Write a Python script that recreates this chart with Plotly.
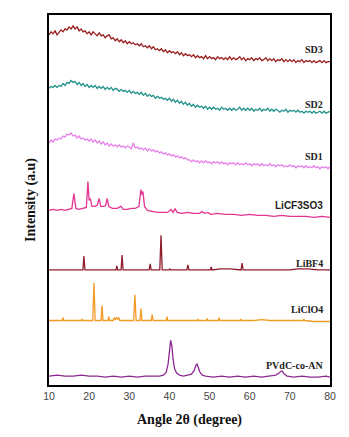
import plotly.graph_objects as go

# ---------------- data (intensity in arbitrary units, stacked offsets included) ----------------
SD_START, SD_STEP = 10.0, 0.5

SD3 = [353,356,354,357,353,356,358,356,359,358,361,359,362,359,361,357,359,356,357,354,
       356,353,356,354,352,355,352,353,350,352,353,349,350,347,349,346,348,345,347,344,
       346,344,345,343,344,342,344,341,342,340,342,339,341,338,339,337,339,336,338,335,
       337,335,336,334,336,333,335,332,334,332,333,331,333,330,332,330,331,329,332,329,
       331,329,330,328,331,329,330,328,330,328,331,328,330,328,329,331,328,330,327,329,
       328,330,327,329,328,330,327,328,330,327,329,327,329,326,328,327,329,326,328,326,
       328,326,328,325,327,326,328,325,327,326,327,325,327,325,326,327,325,327,325,326,326]

SD2 = [299,301,300,302,300,302,301,304,302,305,304,307,305,306,303,305,302,304,301,303,
       300,302,300,302,299,301,299,301,298,300,298,300,297,299,298,296,298,296,297,295,
       297,294,296,294,295,293,295,292,294,291,293,291,292,289,291,289,290,288,289,287,
       289,286,288,285,287,284,286,283,285,282,284,281,283,280,282,280,281,279,281,278,
       280,278,280,278,279,277,280,278,279,277,279,277,279,277,278,280,277,279,277,279,
       277,279,276,278,277,279,276,278,277,279,276,278,276,278,277,275,277,276,278,275,
       277,276,277,275,277,275,276,274,276,275,276,274,276,274,275,276,274,276,274,275,276]

SD1 = [244,247,245,248,247,249,248,251,250,253,252,254,251,252,249,251,248,249,247,248,
       246,248,245,247,244,246,243,245,242,244,241,243,241,242,240,242,240,241,239,241,
       240,238,244,239,240,238,239,237,239,236,238,236,237,235,236,234,235,233,234,232,
       233,231,232,230,231,229,230,228,229,227,227,225,227,225,226,224,226,224,226,224,
       225,223,225,224,225,223,225,223,224,222,224,223,224,222,224,222,223,222,224,222,
       223,221,223,222,223,221,223,221,222,221,223,221,222,220,222,221,222,220,221,220,
       222,220,221,219,221,220,221,219,221,219,220,219,221,219,220,218,220,219,220,218,220]

LICF3SO3_X = [10,11,12,13,14,15,15.7,16.2,16.7,17.5,18.5,19.3,19.7,20.0,20.3,20.7,21.3,22.0,22.5,22.9,
              23.6,24.1,24.5,24.9,25.8,27.0,27.9,28.5,29.5,30.5,31.5,32.4,32.9,33.1,33.4,33.8,34.5,35.5,37,38.5,
              39.5,40.4,40.9,41.4,41.9,43,44.5,46,47.5,48.1,48.7,49.6,50.3,52,54,56,58,60,62,64,
              66,68,70,72,74,76,78,80]
LICF3SO3_Y = [176,177,176,177,176,177,178,193,178,177,178,179,205,186,188,180,180,181,188,180,
              180,181,188,180,178,178,180,177,177,178,178,180,197,192,195,180,176,175,174,174,
              174,177,174,178,174,173,174,173,173,175,173,174,172,173,172,172,171,172,171,171,
              170,171,170,170,170,169,170,169]

LIBF4_X = [10,13,16,18.45,18.7,18.95,22,25,26.7,26.9,27.1,27.95,28.2,28.45,31,34.95,35.2,35.45,37.6,37.9,
           38.2,39.9,40.1,40.3,42,44.35,44.6,44.85,47,50.2,50.4,50.6,52.7,55.2,57.85,58.1,58.35,62,66,70,
           72,74.5,77,80]
LIBF4_Y = [116,116,116,116,130,116,116,116,116,120,116,116,131,116,116,116,122,116,116,151,
           116,116,117,116,116,116,121,116,116,116,119,116,117,117,116,123,116,116,116,116,
           117,117,116,116]

LICLO4_X = [10,12,13.3,13.5,13.7,16,18,18.2,18.4,20.9,21.2,21.5,22.95,23.2,23.45,24.7,24.9,25.1,26.0,26.2,
            26.5,26.9,27.2,27.4,27.6,29,31.1,31.4,31.7,32.65,32.9,33.15,35.45,35.7,35.95,37,39.2,39.4,39.6,43,
            46.9,47.1,47.3,49.2,49.4,49.6,52.2,52.4,52.6,55,57.6,57.8,58,61,63,65,69,73.3,73.5,73.7,
            76,80]
LICLO4_Y = [65,65,65,68,65,65,65,66,65,65,103,65,65,80,65,65,69,65,65,68,
            66,68,66,68,65,65,65,91,65,65,77,65,65,71,65,65,65,69,65,65,
            65,66,65,65,67,65,65,68,65,65,65,66,65,65,66,65,65,65,66,65,
            64,64]

PVDC_X = [10,12,14,16,18,20,22,24,26,28,30,32,34,36,37.5,38.5,39.2,39.7,40.0,40.3,
          40.6,40.9,41.3,41.8,42.5,43.5,44.5,45.5,46.2,46.6,46.9,47.2,47.6,48.2,49,51,53,55,57,59,
          61,63,65,66.5,67.3,67.8,68.1,68.6,69.3,71,73,75,77,79,80]
PVDC_Y = [9,10,9,9,10,9,9,8,9,8,9,8,9,9,9,10,13,22,38,45,
          40,26,16,12,10,9,10,11,15,20,21,18,13,10,9,8,9,8,9,8,
          9,8,9,10,12,14,14,11,9,8,9,8,8,9,8]

LABELS = ["SD3", "SD2", "SD1", "LiCF3SO3", "LiBF4", "LiClO4", "PVdC-co-AN"]
LABEL_Y = [338, 283, 230, 181, 122, 76, 20]
X_TICKS = [10, 20, 30, 40, 50, 60, 70, 80]

# ---------------- styling ----------------
COLORS = {
    "SD3": "#9a1c1c",
    "SD2": "#1f9189",
    "SD1": "#e67ee9",
    "LiCF3SO3": "#e23490",
    "LiBF4": "#8e1c2c",
    "LiClO4": "#f29a26",
    "PVdC-co-AN": "#8a2a90",
}

sd_x = [SD_START + SD_STEP * i for i in range(len(SD3))]

series = [
    ("SD3", sd_x, SD3),
    ("SD2", sd_x, SD2),
    ("SD1", sd_x, SD1),
    ("LiCF3SO3", LICF3SO3_X, LICF3SO3_Y),
    ("LiBF4", LIBF4_X, LIBF4_Y),
    ("LiClO4", LICLO4_X, LICLO4_Y),
    ("PVdC-co-AN", PVDC_X, PVDC_Y),
]

fig = go.Figure()
for name, xs, ys in series:
    fig.add_trace(go.Scatter(x=xs, y=ys, mode="lines", name=name,
                             line=dict(color=COLORS[name], width=1.3),
                             showlegend=False, hoverinfo="skip"))

for lab, ly in zip(LABELS, LABEL_Y):
    fam = "Arial, Liberation Sans, sans-serif" if lab == "LiCF3SO3" else "Liberation Serif, Times New Roman, serif"
    fig.add_annotation(x=0.982, xref="paper", y=ly, yref="y", text="<b>%s</b>" % lab,
                       showarrow=False, xanchor="right", yanchor="middle",
                       font=dict(family=fam, size=10, color="#222222"))

fig.update_layout(
    width=349, height=437,
    margin=dict(l=49, r=19, t=15, b=49),
    paper_bgcolor="white", plot_bgcolor="white",
    xaxis=dict(range=[10, 80], tickvals=X_TICKS, ticks="", showgrid=False, zeroline=False,
               showline=True, linecolor="black", linewidth=2, mirror=True,
               tickfont=dict(family="Arial, Liberation Sans, sans-serif", size=10.5, color="#444444"),
               title=dict(text="<b>Angle 2θ (degree)</b>", standoff=14,
                          font=dict(family="Liberation Serif, Times New Roman, serif", size=14, color="#111111"))),
    yaxis=dict(range=[0, 373], showticklabels=False, ticks="", showgrid=False, zeroline=False,
               showline=True, linecolor="black", linewidth=2, mirror=True,
               title=dict(text="<b>Intensity (a.u)</b>", standoff=8,
                          font=dict(family="Liberation Serif, Times New Roman, serif", size=14, color="#111111"))),
)

fig.write_html("out.html")
